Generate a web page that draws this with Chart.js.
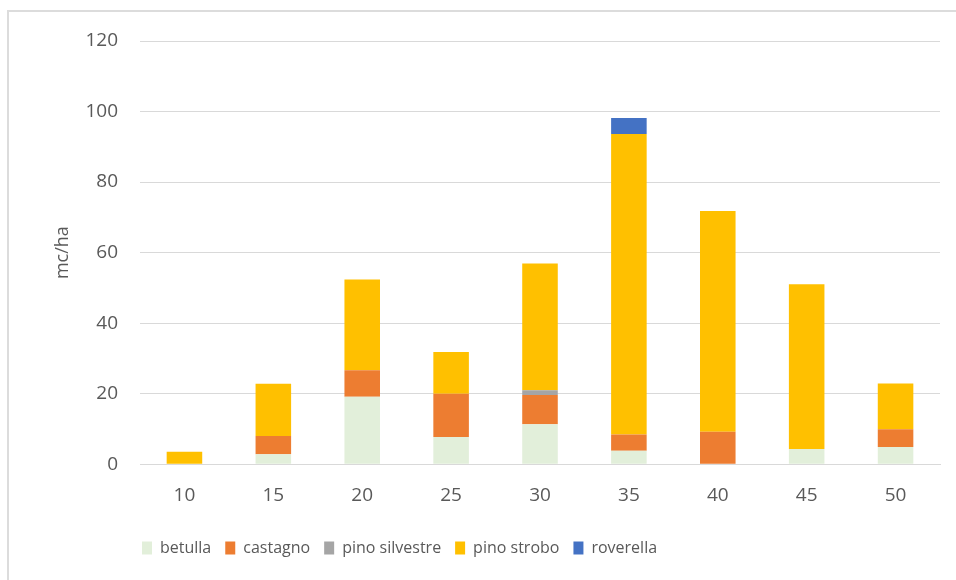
<!DOCTYPE html>
<html>
<head>
<meta charset="utf-8">
<script src="https://cdn.jsdelivr.net/npm/chart.js@4.4.1/dist/chart.umd.min.js"></script>
<style>
  html, body { margin: 0; padding: 0; background: #fff; }
  #wrap { position: relative; width: 956px; height: 580px; }
  #frame { position: absolute; left: 7px; top: 10px; width: 960px; height: 580px;
           border-left: 2px solid #dcdcdc; border-top: 2px solid #dcdcdc; }
  canvas { position: absolute; left: 0; top: 0; }
</style>
</head>
<body>
<div id="wrap">
  <div id="frame"></div>
  <canvas id="chart" width="956" height="580"></canvas>
</div>
<script>
// classi diametriche
const categories = ['10', '15', '20', '25', '30', '35', '40', '45', '50'];

// mc/ha per specie
const betulla       = [0, 2.8, 19.1, 7.7, 11.3, 3.8, 0, 4.3, 4.9];
const castagno      = [0, 5.2, 7.55, 12.3, 8.3, 4.6, 9.2, 0, 5.0];
const pinoSilvestre = [0, 0, 0, 0, 1.4, 0, 0, 0, 0];
const pinoStrobo    = [3.5, 14.8, 25.75, 11.8, 35.9, 85.2, 62.6, 46.7, 13.0];
const roverella     = [0, 0, 0, 0, 0, 4.6, 0, 0, 0];

const yTicks = [0, 20, 40, 60, 80, 100, 120];

const textColor = '#595959';
const gridColor = '#d9d9d9';

// sposta la legenda come nell'originale
const legendShift = {
    id: 'legendShift',
    afterLayout(chart) {
        if (chart.legend) {
            chart.legend.left = 128;
        }
    }
};

const ctx = document.getElementById('chart');
new Chart(ctx, {
    type: 'bar',
    data: {
        labels: categories,
        datasets: [
            { label: 'betulla', data: betulla, backgroundColor: '#E2EFDA' },
            { label: 'castagno', data: castagno, backgroundColor: '#ED7D31' },
            { label: 'pino silvestre', data: pinoSilvestre, backgroundColor: '#A5A5A5' },
            { label: 'pino strobo', data: pinoStrobo, backgroundColor: '#FFC000' },
            { label: 'roverella', data: roverella, backgroundColor: '#4472C4' }
        ]
    },
    options: {
        responsive: false,
        animation: false,
        maintainAspectRatio: false,
        layout: { padding: { left: 52, right: 16, top: 41, bottom: 14 } },
        datasets: {
            bar: { barPercentage: 0.4, categoryPercentage: 1.0, borderWidth: 0 }
        },
        scales: {
            x: {
                stacked: true,
                grid: { display: false },
                border: { display: true, color: gridColor, width: 1 },
                afterFit(scale) { scale.height += 7; },
                ticks: { color: textColor, font: { family: 'Open Sans', size: 19 }, padding: 12 }
            },
            y: {
                stacked: true,
                min: 0,
                max: 120,
                afterBuildTicks(scale) {
                    scale.ticks = yTicks.map(v => ({ value: v }));
                },
                afterFit(scale) { scale.width = 88; },
                grid: { color: gridColor, lineWidth: 1, drawTicks: false },
                border: { display: false },
                ticks: { color: textColor, font: { family: 'Open Sans', size: 19 }, padding: 22 },
                title: {
                    display: true,
                    text: 'mc/ha',
                    color: textColor,
                    font: { family: 'Open Sans', size: 18 },
                    padding: { top: 0, bottom: 0 }
                }
            }
        },
        plugins: {
            legend: {
                position: 'bottom',
                align: 'start',
                labels: {
                    color: textColor,
                    font: { family: 'Open Sans', size: 16 },
                    boxWidth: 10,
                    boxHeight: 13,
                    padding: 14
                }
            },
            tooltip: { enabled: false }
        }
    },
    plugins: [legendShift]
});
</script>
</body>
</html>
